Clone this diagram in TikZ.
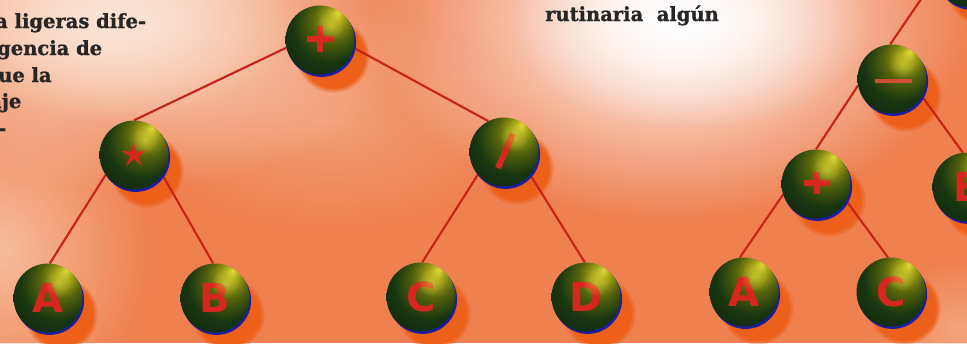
\documentclass[tikz,border=0pt]{standalone}
\usepackage{fontspec}
\setmainfont{DejaVu Serif}[FakeBold=1.1]
\newfontfamily\ballfont{DejaVu Sans}
\usetikzlibrary{fadings,shapes.geometric}

% palette
\definecolor{bgorange}{RGB}{239,128,80}
\definecolor{bgpeach}{RGB}{251,226,210}
\definecolor{bglight}{RGB}{247,190,156}
\definecolor{shadowfill}{RGB}{236,96,26}
\definecolor{edgered}{RGB}{198,34,24}
\definecolor{lettred}{RGB}{214,38,30}
\definecolor{barred}{RGB}{206,78,52}
\definecolor{rimblue}{RGB}{28,30,160}
\definecolor{textgray}{RGB}{40,38,36}
\definecolor{hlA}{RGB}{225,218,60}
\definecolor{hlB}{RGB}{170,168,24}
\definecolor{hlC}{RGB}{84,98,12}
\definecolor{hlD}{RGB}{24,54,16}
\definecolor{hlE}{RGB}{12,36,14}
\definecolor{hlF}{RGB}{4,14,6}
\definecolor{glosscol}{RGB}{235,225,70}

% glossy dark-green sphere, highlight above and right of centre
\pgfdeclareradialshading{greensphere}{\pgfpoint{13bp}{20bp}}{%
  color(0bp)=(hlA); color(5bp)=(hlB); color(15bp)=(hlC);
  color(26bp)=(hlD); color(40bp)=(hlE); color(50bp)=(hlF)}

\tikzfading[name=softglow, inner color=transparent!0, outer color=transparent!100]

\pgfdeclarelayer{back}
\pgfdeclarelayer{shadow}
\pgfdeclarelayer{edge}
\pgfdeclarelayer{gloss}
\pgfsetlayers{back,shadow,edge,main,gloss}

\tikzset{
  ballnode/.style={circle, minimum size=69pt, inner sep=0pt, shading=greensphere,
    font=\ballfont\bfseries\fontsize{40}{40}\selectfont, text=lettred},
  edgeline/.style={draw=edgered, line width=2.1pt},
  opbar/.style={draw=lettred, line width=6.5pt},
  bodytext/.style={font=\bfseries\fontsize{19.5}{24}\selectfont, text=textgray, inner sep=0pt, anchor=base west},
}

\begin{document}
\begin{tikzpicture}[x=1pt, y=-1pt]
\useasboundingbox (0,0) rectangle (967,343);
\clip (0,0) rectangle (967,343);

% paper background: orange with light glows
\begin{pgfonlayer}{back}
  \fill[bgorange] (0,0) rectangle (967,343);
  \fill[bglight, path fading=softglow] (0,250) ellipse (150 and 170);
  \fill[bglight, path fading=softglow, fill opacity=0.5] (330,120) ellipse (200 and 110);
  \fill[bgpeach, path fading=softglow] (120,20) ellipse (300 and 170);
  \fill[bgpeach, path fading=softglow] (110,20) ellipse (190 and 100);
  \fill[white, path fading=softglow] (670,20) ellipse (300 and 200);
  \fill[white, path fading=softglow] (690,20) ellipse (180 and 110);
  \fill[bglight, path fading=softglow, fill opacity=0.6] (960,330) ellipse (90 and 70);
\end{pgfonlayer}

% running text of the page
\node[bodytext] (t1) at (-5,28) {a ligeras dife-};
\node[bodytext] (t2) at (-3,55) {gencia de};
\node[bodytext] (t3) at (-2,82) {ue la};
\node[bodytext] (t4) at (-11,108) {aje};
\node[bodytext] (t5) at (-2,135) {-};
\node[bodytext] (t6) at (545,21) {rutinaria\ \ algún};

% left tree: (A*B)+(C/D)
\node[ballnode] (root) at (320,40) {};
\node[ballnode] (mul)  at (134,155) {};
\node[ballnode] (dvd)  at (504,152) {};
\node[ballnode] (a1)   at (48,298) {A};
\node[ballnode] (b1)   at (215,298) {B};
\node[ballnode] (c1)   at (421,297) {C};
\node[ballnode] (d1)   at (586,297) {D};

% right tree
\node[ballnode] (top)  at (970,-27) {};
\node[ballnode] (sub)  at (892,79) {};
\node[ballnode] (add)  at (816,184) {};
\node[ballnode] (e2)   at (967,187) {E};
\node[ballnode] (a2)   at (744,292) {A};
\node[ballnode] (c2)   at (891,292) {C};

% operator glyphs
\draw[opbar] ([shift={(-13,-1)}]root.center) -- ([shift={(13,-1)}]root.center);
\draw[opbar] ([shift={(0,-14)}]root.center) -- ([shift={(0,12)}]root.center);
\fill[lettred]
  ([shift={(-90:13.5)}]mul.center) -- ([shift={(-54:4.2)}]mul.center) --
  ([shift={(-18:13.5)}]mul.center) -- ([shift={(18:4.2)}]mul.center) --
  ([shift={(54:13.5)}]mul.center) -- ([shift={(90:4.2)}]mul.center) --
  ([shift={(126:13.5)}]mul.center) -- ([shift={(162:4.2)}]mul.center) --
  ([shift={(198:13.5)}]mul.center) -- ([shift={(234:4.2)}]mul.center) -- cycle;
\draw[opbar, line width=6pt] ([shift={(9,-18)}]dvd.center) -- ([shift={(-6,16)}]dvd.center);
\draw[opbar] ([shift={(-12,-1)}]add.center) -- ([shift={(14,-1)}]add.center);
\draw[opbar] ([shift={(1,-12)}]add.center) -- ([shift={(1,10)}]add.center);
\draw[draw=barred, line width=3.5pt] ([shift={(-17,2)}]sub.center) -- ([shift={(20,2)}]sub.center);

% drop shadows
\begin{pgfonlayer}{shadow}
  \foreach \n in {root,mul,dvd,a1,b1,c1,d1,top,sub,add,e2,a2,c2}{
    \fill[shadowfill, path fading=circle with fuzzy edge 15 percent]
      ([shift={(13,16)}]\n.center) circle (37);
  }
\end{pgfonlayer}

% connectors and blue rims
\begin{pgfonlayer}{edge}
  \draw[edgeline] (root.193) -- (mul.90);
  \draw[edgeline] (root.347) -- (dvd.117);
  \draw[edgeline] (mul.215) -- (a1.87);
  \draw[edgeline] (mul.325) -- (b1.93);
  \draw[edgeline] (dvd.221) -- (c1.88);
  \draw[edgeline] (dvd.319) -- (d1.92);
  \draw[edgeline] (sub.93) -- (top.188);
  \draw[edgeline] (sub.191) -- (add.90);
  \draw[edgeline] (sub.330) -- (e2.97);
  \draw[edgeline] (add.198) -- (a2.97);
  \draw[edgeline] (add.331) -- (c2.95);
  \foreach \n in {root,mul,dvd,a1,b1,c1,d1,top,sub,add,e2,a2,c2}{
    \fill[rimblue] ([shift={(1.6,2.4)}]\n.center) circle (34.5);
  }
\end{pgfonlayer}

% gloss over the letters
\begin{pgfonlayer}{gloss}
  \foreach \n in {root,mul,dvd,a1,b1,c1,d1,top,sub,add,e2,a2,c2}{
    \fill[glosscol, path fading=softglow, fill opacity=0.5]
      ([shift={(10,-15)}]\n.center) circle (14);
  }
\end{pgfonlayer}
\end{tikzpicture}
\end{document}
